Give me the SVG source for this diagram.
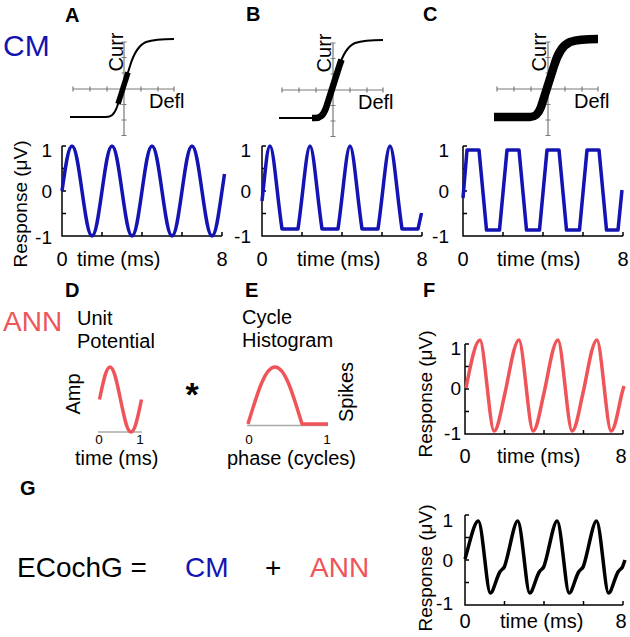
<svg xmlns="http://www.w3.org/2000/svg" width="630" height="637" viewBox="0 0 630 637">
<defs>
<style>
text{font-family:"Liberation Sans",Arial,Helvetica,sans-serif;fill:#000}
.lbl{font-size:20px;font-weight:bold}
.big{font-size:28px}
.t20{font-size:20px}
.tk{font-size:19px}
.tkx{font-size:20px;text-anchor:middle}
.sm{font-size:13.5px;text-anchor:middle}
.ylab{font-size:19px;text-anchor:middle}
.blue{fill:#1414b4}
.red{fill:#ef5459}
.end{text-anchor:end}
.mid{text-anchor:middle}
.ax{fill:none;stroke:#000;stroke-width:1.5}
.sax{fill:none;stroke:#7a7a7a;stroke-width:1.2}
.cm{fill:none;stroke:#1414b4;stroke-width:3.5;stroke-linejoin:round}
.ann{fill:none;stroke:#ef5459;stroke-width:3.5;stroke-linejoin:round}
.ecg{fill:none;stroke:#000;stroke-width:3.5;stroke-linejoin:round}
.sig{fill:none;stroke:#000;stroke-width:2}
.base{fill:none;stroke:#aaa;stroke-width:1.5}
</style>
<g id="sigaxes">
<path class="sax" d="M73,89H174M73,86.5v5M90,86.5v5M107,86.5v5M141,86.5v5M158,86.5v5M174,86.5v5M124,42V135.5M121.5,42h5M121.5,57.5h5M121.5,73h5M121.5,104.5h5M121.5,120h5M121.5,135.5h5"/>
</g>
<path id="sigcurve" d="M70,117 L106,117 C111,117 114,115 117,107 L130,66 C133,56 137,46 146,42 C155,39 165,39 174,39"/>
<path id="wax" d="M0,0V90H160M0,0h4M0,22.5h4M0,45h4M0,67.5h4M40,90v-4M80,90v-4M120,90v-4M160,90v-4"/>
<path id="wax2" d="M0,0V90H158M0,0h4M0,22.5h4M0,45h4M0,67.5h4M39.5,90v-4M79,90v-4M118.5,90v-4M158,90v-4"/>
</defs>

<g id="connectors"></g>

<g id="panelA">
<text class="lbl" x="65" y="22">A</text>
<text class="blue" x="3" y="56" style="font-size:30px">CM</text>
<use href="#sigaxes"/>
<use href="#sigcurve" class="sig"/>
<path d="M118,103.8 L128,72.3" fill="none" stroke="#000" stroke-width="5.5"/>
<text class="t20 mid" transform="translate(123,52) rotate(-90)">Curr</text>
<text class="t20" x="149" y="108">Defl</text>
<use href="#wax" class="ax" transform="translate(62,146)"/>
<path class="cm" d="M62,191 c3.64,-25.74 6.36,-45 10,-45 c3.64,0 6.36,19.26 10,45 c3.64,25.74 6.36,45 10,45 c3.64,0 6.36,-19.26 10,-45 c3.64,-25.74 6.36,-45 10,-45 c3.64,0 6.36,19.26 10,45 c3.64,25.74 6.36,45 10,45 c3.64,0 6.36,-19.26 10,-45 c3.64,-25.74 6.36,-45 10,-45 c3.64,0 6.36,19.26 10,45 c3.64,25.74 6.36,45 10,45 c3.64,0 6.36,-19.26 10,-45 c3.64,-25.74 6.36,-45 10,-45 c3.64,0 6.36,19.26 10,45 c3.64,25.74 6.36,45 10,45 c3.64,0 6.36,-19.26 10,-45 l2.5,-17"/>
<text class="tk end" x="52" y="157">1</text>
<text class="tk end" x="52" y="198">0</text>
<text class="tk end" x="52" y="244">-1</text>
<text class="tkx" x="62" y="266">0</text>
<text class="tkx" x="222" y="266">8</text>
<text class="t20" x="77" y="266">time (ms)</text>
<text class="ylab" transform="translate(27,204) rotate(-90)">Response (μV)</text>
</g>

<g id="panelB">
<text class="lbl" x="246" y="21">B</text>
<g transform="translate(209,1)">
<use href="#sigaxes"/>
<use href="#sigcurve" class="sig"/>
<path d="M103,117 L106,117 C111,117 114,115 117,107 L130,66 L132.5,58.6" fill="none" stroke="#000" stroke-width="6.5" stroke-linejoin="round"/>
</g>
<text class="t20 mid" transform="translate(331,53) rotate(-90)">Curr</text>
<text class="t20" x="358" y="109">Defl</text>
<use href="#wax" class="ax" transform="translate(262,146)"/>
<path class="cm" d="M262,201 C265,175 267,146 270,146 C273.5,146 277,195 282,229 L298,229 C303,195 306.5,146 310,146 C313.5,146 317,195 322,229 L338,229 C343,195 346.5,146 350,146 C353.5,146 357,195 362,229 L378,229 C383,195 386.5,146 390,146 C393.5,146 397,195 402,229 L418,229 L421.5,213"/>
<text class="tk end" x="251" y="157">1</text>
<text class="tk end" x="251" y="198">0</text>
<text class="tk end" x="251" y="243">-1</text>
<text class="tkx" x="262" y="266">0</text>
<text class="tkx" x="422" y="266">8</text>
<text class="t20" x="297" y="266">time (ms)</text>
</g>

<g id="panelC">
<text class="lbl" x="423" y="21">C</text>
<g transform="translate(424,0)">
<use href="#sigaxes"/>
<use href="#sigcurve" fill="none" stroke="#000" stroke-width="8.5"/>
</g>
<text class="t20 mid" transform="translate(546,52) rotate(-90)">Curr</text>
<text class="t20" x="574" y="108">Defl</text>
<use href="#wax" class="ax" transform="translate(463,146)"/>
<path class="cm" d="M463,198 L467,150 L479,150 L486.5,230 L499.5,230 L507,150 L519,150 L526.5,230 L539.5,230 L547,150 L559,150 L566.5,230 L579.5,230 L587,150 L599,150 L606.5,230 L618,230 L622,190"/>
<text class="tk end" x="449" y="157">1</text>
<text class="tk end" x="449" y="198">0</text>
<text class="tk end" x="449" y="243">-1</text>
<text class="tkx" x="463" y="266">0</text>
<text class="tkx" x="623" y="266">8</text>
<text class="t20" x="497" y="266">time (ms)</text>
</g>

<g id="panelD">
<text class="lbl" x="65" y="297">D</text>
<text class="big red" x="3" y="331">ANN</text>
<text class="t20" x="77" y="325">Unit</text>
<text class="t20" x="77" y="348">Potential</text>
<text class="t20 mid" transform="translate(80,394) rotate(-90)">Amp</text>
<path class="base" d="M98,432H142"/>
<path class="ann" d="M99.5,399.5 c3.82,-18.59 6.68,-32.5 10.5,-32.5 c3.82,0 6.68,13.91 10.5,32.5 c3.82,18.59 6.68,32.5 10.5,32.5 c3.82,0 6.68,-13.91 10.5,-32.5"/>
<text class="sm" x="99" y="444">0</text>
<text class="sm" x="140" y="444">1</text>
<text class="t20" x="75" y="465">time (ms)</text>
<text x="192" y="406" style="font-size:34px;font-weight:bold;text-anchor:middle">*</text>
</g>

<g id="panelE">
<text class="lbl" x="245" y="297">E</text>
<text class="t20" x="242" y="324">Cycle</text>
<text class="t20" x="242" y="347">Histogram</text>
<path class="base" d="M247,425.5H328"/>
<path class="ann" d="M248,424 C257.83,391.4 265.17,367 275,367 C284.83,367 292.17,391.4 302,424 L328,424"/>
<text class="t20 mid" transform="translate(353,392) rotate(-90)">Spikes</text>
<text class="sm" x="249" y="444">0</text>
<text class="sm" x="327" y="444">1</text>
<text class="t20" x="227" y="465">phase (cycles)</text>
</g>

<g id="panelF">
<text class="lbl" x="423" y="297">F</text>
<use href="#wax2" class="ax" transform="translate(465,344)"/>
<path class="ann" d="M466,388 C470,368 475,340 480,340 C484,340 490,431 494,431 C498,431 501,410 505,393 C509,376 514,340 519,340 C523,340 529,431 533,431 C537,431 540,410 544,393 C548,376 553,340 558,340 C562,340 568,431 572,431 C576,431 579,410 583,393 C587,376 592,340 597,340 C601,340 607,431 611,431 C615,431 618,410 622,393 L624,386"/>
<text class="tk end" x="461" y="355">1</text>
<text class="tk end" x="461" y="395">0</text>
<text class="tk end" x="461" y="440">-1</text>
<text class="tkx" x="465" y="463">0</text>
<text class="tkx" x="621" y="463">8</text>
<text class="t20" x="497" y="463">time (ms)</text>
<text class="ylab" transform="translate(432,394) rotate(-90)">Response (μV)</text>
</g>

<g id="panelG">
<text class="lbl" x="20" y="495">G</text>
<text class="big" x="17" y="577">ECochG =</text>
<text class="big blue" x="185" y="577">CM</text>
<text class="big" x="265" y="577">+</text>
<text class="big red" x="310" y="577">ANN</text>
<use href="#wax2" class="ax" transform="translate(465,515)"/>
<path class="ecg" d="M465,559 C469,546 474,521 478.3,521 C482.3,521 486.8,593 490.3,593 C493.3,593 496.3,578 499.8,572 C501.3,569.5 502.8,569.5 504.3,567 C508.3,558 513.8,521 517.7,521 C521.7,521 526.2,593 529.7,593 C532.7,593 535.7,578 539.2,572 C540.7,569.5 542.2,569.5 543.7,567 C547.7,558 553.2,521 557.1,521 C561.1,521 565.6,593 569.1,593 C572.1,593 575.1,578 578.6,572 C580.1,569.5 581.6,569.5 583.1,567 C587.1,558 592.6,521 596.5,521 C600.5,521 605,593 608.5,593 C611.5,593 614.5,578 618,572 C619.5,569.5 621,569.5 622.5,567 L625,560"/>
<text class="tk end" x="453" y="527">1</text>
<text class="tk end" x="453" y="567">0</text>
<text class="tk end" x="453" y="610">-1</text>
<text class="tkx" x="465" y="628">0</text>
<text class="tkx" x="621" y="628">8</text>
<text class="t20" x="500" y="628">time (ms)</text>
<text class="ylab" transform="translate(432,568) rotate(-90)">Response (μV)</text>
</g>
</svg>
